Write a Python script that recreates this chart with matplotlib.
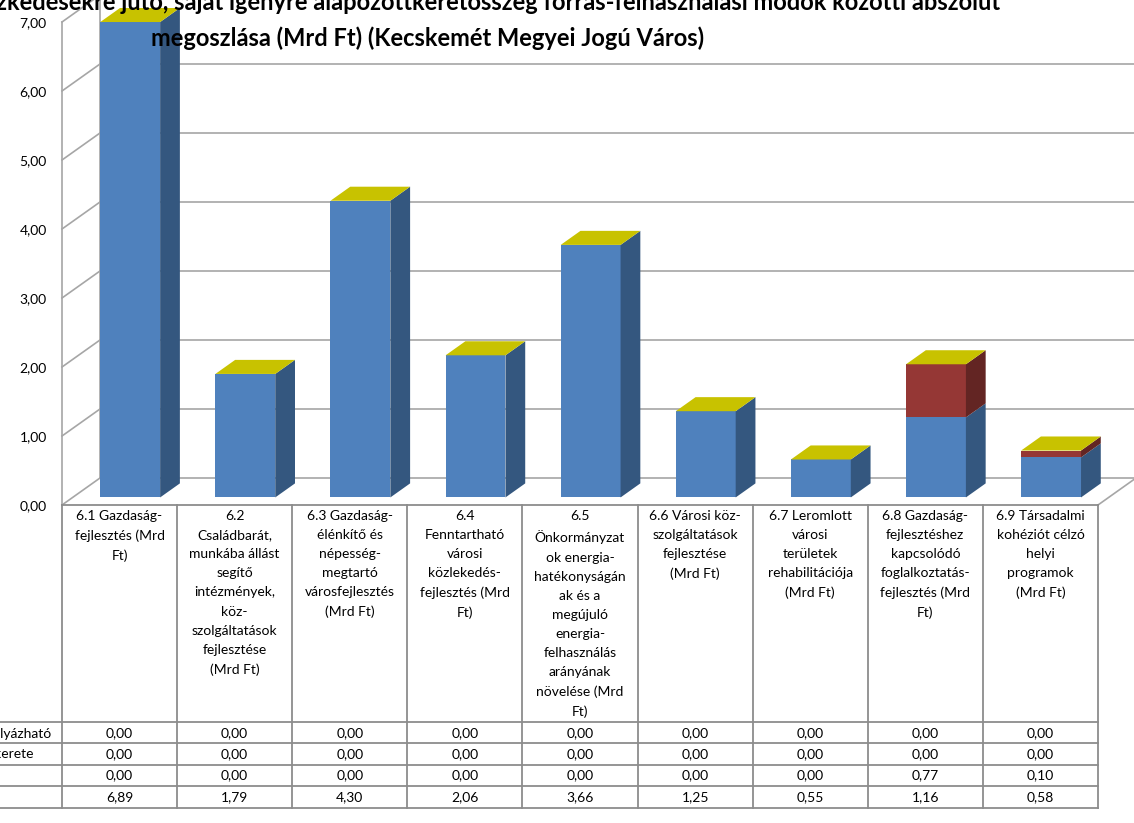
import numpy as np
import matplotlib
matplotlib.use("Agg")
import matplotlib.pyplot as plt
from matplotlib.patches import Polygon, Rectangle
from matplotlib.ticker import FuncFormatter

plt.rcParams['font.family'] = ['Lato', 'DejaVu Sans']

# --- data --------------------------------------------------------------
categories = [
    "6.1 Gazdaság-\nfejlesztés (Mrd\nFt)",
    "6.2\nCsaládbarát,\nmunkába állást\nsegítő\nintézmények,\nköz-\nszolgáltatások\nfejlesztése\n(Mrd Ft)",
    "6.3 Gazdaság-\nélénkítő és\nnépesség-\nmegtartó\nvárosfejlesztés\n(Mrd Ft)",
    "6.4\nFenntartható\nvárosi\nközlekedés-\nfejlesztés (Mrd\nFt)",
    "6.5\nÖnkormányzat\nok energia-\nhatékonyságán\nak és a\nmegújuló\nenergia-\nfelhasználás\narányának\nnövelése (Mrd\nFt)",
    "6.6 Városi köz-\nszolgáltatások\nfejlesztése\n(Mrd Ft)",
    "6.7 Leromlott\nvárosi\nterületek\nrehabilitációja\n(Mrd Ft)",
    "6.8 Gazdaság-\nfejlesztéshez\nkapcsolódó\nfoglalkoztatás-\nfejlesztés (Mrd\nFt)",
    "6.9 Társadalmi\nkohéziót célzó\nhelyi\nprogramok\n(Mrd Ft)",
]
# only the right ends of the first two row names are visible in the chart
row_names = ["Ágazati OP-ból pályázható", "Pénzügyi eszközök kerete", "", ""]
row1 = [0.00, 0.00, 0.00, 0.00, 0.00, 0.00, 0.00, 0.00, 0.00]
row2 = [0.00, 0.00, 0.00, 0.00, 0.00, 0.00, 0.00, 0.00, 0.00]
row3 = [0.00, 0.00, 0.00, 0.00, 0.00, 0.00, 0.00, 0.77, 0.10]
row4 = [6.89, 1.79, 4.30, 2.06, 3.66, 1.25, 0.55, 1.16, 0.58]
rows = [row1, row2, row3, row4]

title1 = ("Az egyes intézkedésekre jutó, saját igényre alapozottkeretösszeg "
          "forrás-felhasználási módok közötti abszolút")
title2 = "megoszlása (Mrd Ft) (Kecskemét Megyei Jogú Város)"

# stacking bottom -> top: row4 (blue), row3 (red), row2, row1 (yellow top)
stack = [row4, row3, row2, row1]
front_cols = ['#4F81BD', '#953735', '#9BBB59', '#C8C200']
side_cols = ['#34577F', '#632523', '#6A8137', '#9C9700']

W, H = 1134, 823
fig = plt.figure(figsize=(W / 100, H / 100), dpi=100)

# plot area (front plane) in pixels
left_px, right_px, zero_px, top_px = 62, 1098, 505, 22
ax = fig.add_axes([left_px / W, (H - zero_px) / H,
                   (right_px - left_px) / W, (zero_px - top_px) / H])
n = len(categories)
ax.set_xlim(-0.5, n - 0.5)
ax.set_ylim(0, 7)
col_px = (right_px - left_px) / n
unit_px = (zero_px - top_px) / 7.0

# oblique depth of the floor, in data units
DX = 38 / col_px
DY = 27 / unit_px
f0, f1 = 0.28, 0.80   # bar front / back depth fractions
bw = 0.52

grid_c = '#A6A6A6'
ticks = np.arange(0, 8)
x0, x1 = -0.5, n - 0.5
for t in ticks:
    ax.plot([x0, x0 + DX], [t, t + DY], color=grid_c, lw=1.2, clip_on=False, zorder=1)
    ax.plot([x0 + DX, x1 + DX], [t + DY, t + DY], color=grid_c, lw=1.2,
            clip_on=False, zorder=1)
ax.plot([x0 + DX, x0 + DX], [DY, 7 + DY], color=grid_c, lw=1.2, clip_on=False, zorder=1)
ax.plot([x1, x1 + DX], [0, DY], color=grid_c, lw=1.2, clip_on=False, zorder=1)

for i in range(n):
    xl = i - bw / 2
    xr = i + bw / 2
    base = 0.0
    for k, ser in enumerate(stack):
        v = ser[i]
        if v <= 0:
            continue
        y0, y1 = base, base + v
        ax.add_patch(Rectangle((xl + f0 * DX, y0 + f0 * DY), bw, v,
                               facecolor=front_cols[k], edgecolor='none',
                               clip_on=False, zorder=3))
        ax.add_patch(Polygon([(xr + f0 * DX, y0 + f0 * DY), (xr + f1 * DX, y0 + f1 * DY),
                              (xr + f1 * DX, y1 + f1 * DY), (xr + f0 * DX, y1 + f0 * DY)],
                             closed=True, facecolor=side_cols[k], edgecolor='none',
                             clip_on=False, zorder=3))
        base = y1
    # top face takes the colour of the topmost series
    ax.add_patch(Polygon([(xl + f0 * DX, base + f0 * DY), (xr + f0 * DX, base + f0 * DY),
                          (xr + f1 * DX, base + f1 * DY), (xl + f1 * DX, base + f1 * DY)],
                         closed=True, facecolor=front_cols[-1], edgecolor='none',
                         clip_on=False, zorder=3))

ax.set_yticks(ticks)
ax.yaxis.set_major_formatter(FuncFormatter(lambda v, p: f"{v:.2f}".replace('.', ',')))
ax.tick_params(axis='y', length=0, pad=11, labelsize=10)
ax.set_xticks([])
for s in ['top', 'right', 'bottom']:
    ax.spines[s].set_visible(False)
ax.spines['left'].set_color(grid_c)
ax.spines['left'].set_linewidth(1.2)
ax.patch.set_alpha(0)

# --- data table ----------------------------------------------------------
tax = fig.add_axes([left_px / W, 0, (right_px - left_px) / W, (H - zero_px) / H])
tax.set_xlim(-0.5, n - 0.5)
tax.set_ylim(H - zero_px, 0)
tax.axis('off')
line_c = '#8C8C8C'
head_h, row_h = 217, 21.4
tbl_bottom = head_h + len(rows) * row_h
tax.plot([x0, x1], [0, 0], color=line_c, lw=1.3, clip_on=False)
for r in range(len(rows) + 1):
    y = head_h + r * row_h
    tax.plot([-2, x1], [y, y], color=line_c, lw=1.3, clip_on=False)
for k in range(n + 1):
    tax.plot([k - 0.5, k - 0.5], [0, tbl_bottom], color=line_c, lw=1.3, clip_on=False)

for i, lab in enumerate(categories):
    tax.text(i, 5, lab, ha='center', va='top', fontsize=10, linespacing=1.71)

label_end = [51, 33, 0, 0]
for r, ser in enumerate(rows):
    yc = head_h + r * row_h + row_h / 2
    if row_names[r]:
        xe = -0.5 - (left_px - label_end[r]) / col_px
        tax.text(xe, yc, row_names[r], ha='right', va='center', fontsize=10, clip_on=False)
    for i, v in enumerate(ser):
        tax.text(i, yc, f"{v:.2f}".replace('.', ','), ha='center', va='center', fontsize=10)

# --- title ---------------------------------------------------------------
fig.text(1000 / W, 1 - 2 / H, title1, ha='right', va='center',
         fontsize=17, fontweight='bold', zorder=10)
fig.text(428 / W, 1 - 38 / H, title2, ha='center', va='center',
         fontsize=17, fontweight='bold', zorder=10)

fig.savefig("out.png", dpi=100)
